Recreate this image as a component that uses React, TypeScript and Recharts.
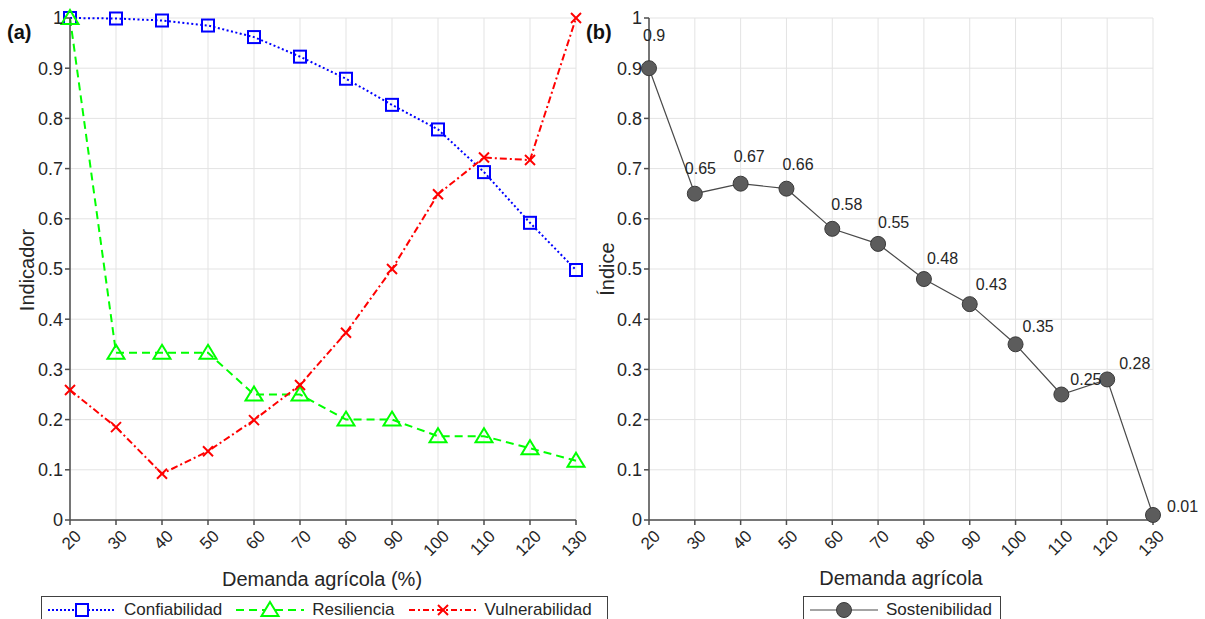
import React from "react"
import { LineChart, Line, XAxis, YAxis, CartesianGrid, LabelList } from "recharts"

const demanda = [20, 30, 40, 50, 60, 70, 80, 90, 100, 110, 120, 130]
const confiabilidad = [1.0, 0.999, 0.995, 0.985, 0.962, 0.923, 0.879, 0.827, 0.778, 0.693, 0.592, 0.498]
const resiliencia = [1.0, 0.333, 0.333, 0.333, 0.25, 0.25, 0.2, 0.2, 0.167, 0.167, 0.143, 0.118]
const vulnerabilidad = [0.259, 0.185, 0.092, 0.137, 0.199, 0.269, 0.373, 0.5, 0.649, 0.722, 0.717, 1.0]
const sostenibilidad = [0.9, 0.65, 0.67, 0.66, 0.58, 0.55, 0.48, 0.43, 0.35, 0.25, 0.28, 0.01]

const xTicks = [20, 30, 40, 50, 60, 70, 80, 90, 100, 110, 120, 130]
const yTicks = [0, 0.1, 0.2, 0.3, 0.4, 0.5, 0.6, 0.7, 0.8, 0.9, 1]

// where each value label sits relative to its point (text start, text middle)
const labelOffsets: [number, number][] = [
  [-6, -33], [-10, -25], [-7, -27], [-4, -24], [-1, -24], [0, -22],
  [3, -21], [6, -20], [7, -18], [9, -15], [12, -16], [14, -9],
]

const indicadores = demanda.map((d, i) => ({
  demanda: d,
  confiabilidad: confiabilidad[i],
  resiliencia: resiliencia[i],
  vulnerabilidad: vulnerabilidad[i],
}))
const sostenibilidadData = demanda.map((d, i) => ({ demanda: d, sostenibilidad: sostenibilidad[i] }))

const FONT = "'Liberation Sans', Arial, Helvetica, sans-serif"
const AXIS = "#4d4d4d"
const TEXT = "#262626"
const GRID = "#e3e3e3"

const BLUE = "#0000ff"
const GREEN = "#00ff00"
const RED = "#ff0000"
const GRAY_LINE = "#4a4a4a"
const GRAY_DOT = "#5c5c5c"

function XTick({ x, y, payload }: any) {
  return (
    <g transform={`translate(${x + 8},${y + 6})`}>
      <text textAnchor="end" transform="rotate(-45)" dy="0.35em" fontSize={17} fill={TEXT} fontFamily={FONT}>
        {payload.value}
      </text>
    </g>
  )
}

function YTick({ x, y, payload }: any) {
  return (
    <text x={x} y={y} dy="0.35em" textAnchor="end" fontSize={18} fill={TEXT} fontFamily={FONT}>
      {payload.value}
    </text>
  )
}

function SquareDot({ cx, cy, index }: any) {
  return <rect key={`sq-${index}`} x={cx - 6} y={cy - 6} width={12} height={12} fill="none" stroke={BLUE} strokeWidth={2} />
}

function TriangleDot({ cx, cy, index }: any) {
  const p = `${cx},${cy - 8} ${cx + 8.5},${cy + 6} ${cx - 8.5},${cy + 6}`
  return <polygon key={`tr-${index}`} points={p} fill="none" stroke={GREEN} strokeWidth={2} />
}

function CrossDot({ cx, cy, index }: any) {
  return (
    <g key={`x-${index}`} stroke={RED} strokeWidth={2}>
      <line x1={cx - 5} y1={cy - 5} x2={cx + 5} y2={cy + 5} />
      <line x1={cx - 5} y1={cy + 5} x2={cx + 5} y2={cy - 5} />
    </g>
  )
}

function CircleDot({ cx, cy, index }: any) {
  return <circle key={`c-${index}`} cx={cx} cy={cy} r={7.5} fill={GRAY_DOT} stroke="#3a3a3a" strokeWidth={1} />
}

function ValueLabel({ x, y, value, index }: any) {
  const [dx, dy] = labelOffsets[index] ?? [0, -20]
  return (
    <text x={x + dx} y={y + dy} dy="0.35em" textAnchor="start" fontSize={16} fill={TEXT} fontFamily={FONT}>
      {String(value)}
    </text>
  )
}

const axisTitle = (text: string, x: number, y: number, angle = 0) => () => (
  <text
    x={x}
    y={y}
    textAnchor="middle"
    dominantBaseline="central"
    transform={angle ? `rotate(${angle},${x},${y})` : undefined}
    fontSize={20}
    fill={TEXT}
    fontFamily={FONT}
  >
    {text}
  </text>
)

function LegendSample({ color, dash, width, marker }: { color: string; dash?: string; width: number; marker: React.ReactNode }) {
  return (
    <svg width={72} height={20} style={{ display: "block" }}>
      <line x1={2} y1={10} x2={70} y2={10} stroke={color} strokeWidth={width} strokeDasharray={dash} />
      {marker}
    </svg>
  )
}

const legendBox: React.CSSProperties = {
  position: "absolute",
  top: 596,
  height: 28,
  border: "1.5px solid #404040",
  background: "#fff",
  display: "flex",
  alignItems: "center",
  boxSizing: "border-box",
  fontFamily: FONT,
  fontSize: 17,
  color: TEXT,
  paddingLeft: 4,
}

const panelTag: React.CSSProperties = {
  position: "absolute",
  top: 21,
  fontFamily: FONT,
  fontWeight: 700,
  fontSize: 20,
  color: "#111",
}

export default function App() {
  return (
    <div style={{ position: "absolute", left: 0, top: 0, width: 1205, height: 619, background: "#fff", overflow: "hidden" }}>
      <div style={{ ...panelTag, left: 7 }}>(a)</div>
      <div style={{ ...panelTag, left: 586 }}>(b)</div>

      <div style={{ position: "absolute", left: 0, top: 0 }}>
        <LineChart width={620} height={619} data={indicadores} margin={{ top: 18, right: 44, left: 0, bottom: 0 }}>
          <CartesianGrid stroke={GRID} strokeWidth={1} />
          <XAxis
            dataKey="demanda"
            type="number"
            domain={[20, 130]}
            ticks={xTicks}
            tick={<XTick />}
            height={99}
            tickSize={5}
            stroke={AXIS}
            strokeWidth={1.5}
            label={{ content: axisTitle("Demanda agrícola (%)", 322, 579) }}
          />
          <YAxis
            type="number"
            domain={[0, 1]}
            ticks={yTicks}
            tick={<YTick />}
            width={70}
            tickSize={5}
            tickMargin={2}
            stroke={AXIS}
            strokeWidth={1.5}
            label={{ content: axisTitle("Indicador", 27, 270, -90) }}
          />
          <Line dataKey="confiabilidad" type="linear" stroke={BLUE} strokeWidth={2} strokeDasharray="2 2.5" dot={SquareDot} isAnimationActive={false} />
          <Line dataKey="resiliencia" type="linear" stroke={GREEN} strokeWidth={2} strokeDasharray="8 5" dot={TriangleDot} isAnimationActive={false} />
          <Line dataKey="vulnerabilidad" type="linear" stroke={RED} strokeWidth={2} strokeDasharray="7 3 2 3" dot={CrossDot} isAnimationActive={false} />
        </LineChart>
      </div>

      <div style={{ position: "absolute", left: 580, top: 0 }}>
        <LineChart width={625} height={619} data={sostenibilidadData} margin={{ top: 18, right: 52, left: 0, bottom: 0 }}>
          <CartesianGrid stroke={GRID} strokeWidth={1} />
          <XAxis
            dataKey="demanda"
            type="number"
            domain={[20, 130]}
            ticks={xTicks}
            tick={<XTick />}
            height={99}
            tickSize={5}
            stroke={AXIS}
            strokeWidth={1.5}
            label={{ content: axisTitle("Demanda agrícola", 321, 578) }}
          />
          <YAxis
            type="number"
            domain={[0, 1]}
            ticks={yTicks}
            tick={<YTick />}
            width={69}
            tickSize={5}
            tickMargin={2}
            stroke={AXIS}
            strokeWidth={1.5}
            label={{ content: axisTitle("Índice", 27, 269, -90) }}
          />
          <Line dataKey="sostenibilidad" type="linear" stroke={GRAY_LINE} strokeWidth={1.2} dot={CircleDot} isAnimationActive={false}>
            <LabelList dataKey="sostenibilidad" content={ValueLabel} />
          </Line>
        </LineChart>
      </div>

      <div style={{ ...legendBox, left: 41, width: 567 }}>
        <LegendSample color={BLUE} dash="2 2" width={2} marker={<rect x={30} y={4} width={12} height={12} fill="#fff" stroke={BLUE} strokeWidth={2} />} />
        <span style={{ marginLeft: 6, marginRight: 12 }}>Confiabilidad</span>
        <LegendSample color={GREEN} dash="8 5" width={2} marker={<polygon points="36,2 44.5,16 27.5,16" fill="#fff" stroke={GREEN} strokeWidth={2} />} />
        <span style={{ marginLeft: 6, marginRight: 12 }}>Resiliencia</span>
        <LegendSample
          color={RED}
          dash="6 3 2 3"
          width={2}
          marker={
            <g stroke={RED} strokeWidth={2}>
              <line x1={31} y1={5} x2={41} y2={15} />
              <line x1={31} y1={15} x2={41} y2={5} />
            </g>
          }
        />
        <span style={{ marginLeft: 6 }}>Vulnerabilidad</span>
      </div>

      <div style={{ ...legendBox, left: 803, width: 198 }}>
        <LegendSample color={GRAY_LINE} width={1.2} marker={<circle cx={36} cy={10} r={7.5} fill={GRAY_DOT} stroke="#3a3a3a" strokeWidth={1} />} />
        <span style={{ marginLeft: 6 }}>Sostenibilidad</span>
      </div>
    </div>
  )
}
